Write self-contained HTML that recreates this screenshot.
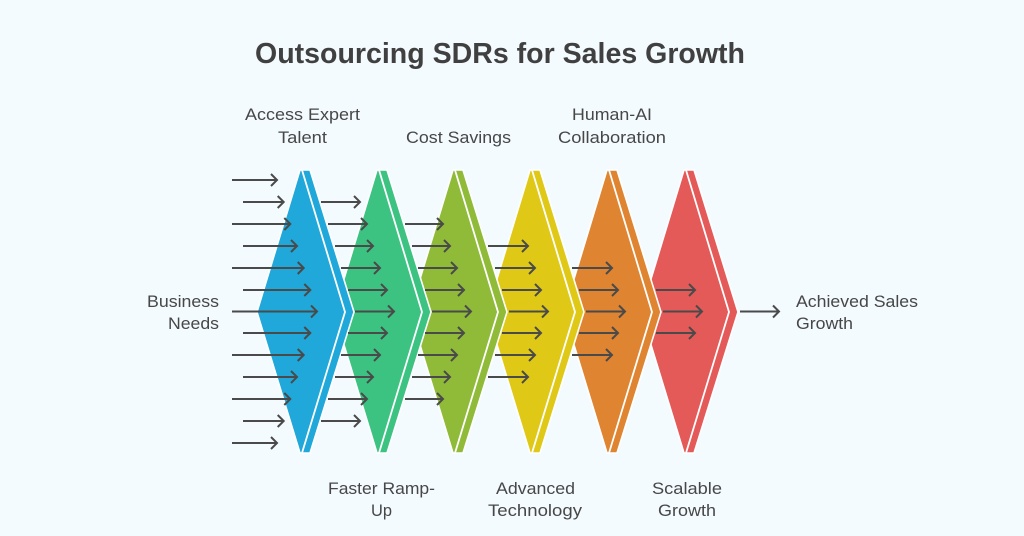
<!DOCTYPE html>
<html>
<head>
<meta charset="utf-8">
<style>
  html, body { margin: 0; padding: 0; background: #f4fbfe; }
  svg { display: block; }
  text { font-family: "Liberation Sans", Arial, sans-serif; fill: #474747; }
</style>
</head>
<body>
<svg width="1024" height="536" viewBox="0 0 1024 536" xmlns="http://www.w3.org/2000/svg">
  <rect width="1024" height="536" fill="#f4fbfe"/>

  <!-- Title -->
  <text x="500" y="63" text-anchor="middle" font-size="29" font-weight="bold" style="fill:#404040" textLength="490" lengthAdjust="spacingAndGlyphs">Outsourcing SDRs for Sales Growth</text>

  <!-- Chevrons (drawn right to left so left ones overlap) -->
  <g stroke="#ffffff" stroke-linejoin="miter">
    <g transform="translate(384,0)">
      <polygon points="300,170 310,170 354,312 310,453 300,453 257,312" fill="#e45a58" stroke-width="1.6"/>
      <polyline points="302,170 345,312 302,453" fill="none" stroke-width="1.8"/>
    </g>
    <g transform="translate(307,0)">
      <polygon points="300,170 310,170 354,312 310,453 300,453 257,312" fill="#df8431" stroke-width="1.6"/>
      <polyline points="302,170 345,312 302,453" fill="none" stroke-width="1.8"/>
    </g>
    <g transform="translate(230,0)">
      <polygon points="300,170 310,170 354,312 310,453 300,453 257,312" fill="#dfc916" stroke-width="1.6"/>
      <polyline points="302,170 345,312 302,453" fill="none" stroke-width="1.8"/>
    </g>
    <g transform="translate(153,0)">
      <polygon points="300,170 310,170 354,312 310,453 300,453 257,312" fill="#8fbb39" stroke-width="1.6"/>
      <polyline points="302,170 345,312 302,453" fill="none" stroke-width="1.8"/>
    </g>
    <g transform="translate(77,0)">
      <polygon points="300,170 310,170 354,312 310,453 300,453 257,312" fill="#3cc381" stroke-width="1.6"/>
      <polyline points="302,170 345,312 302,453" fill="none" stroke-width="1.8"/>
    </g>
    <g>
      <polygon points="300,170 310,170 354,312 310,453 300,453 257,312" fill="#1fa8d9" stroke-width="1.6"/>
      <polyline points="302,170 345,312 302,453" fill="none" stroke-width="1.8"/>
    </g>
  </g>

  <!-- Arrows -->
  <g fill="none" stroke="#4a4a4a" stroke-width="2" stroke-linecap="butt" stroke-linejoin="miter">
    <!-- Set 1 -->
    <path d="M232 180H277M271 174L277 180L271 186"/>
    <path d="M243 202H283.7M277.7 196L283.7 202L277.7 208"/>
    <path d="M232 224H290.3M284.3 218L290.3 224L284.3 230"/>
    <path d="M243 246H297M291 240L297 246L291 252"/>
    <path d="M232 268H303.7M297.7 262L303.7 268L297.7 274"/>
    <path d="M243 290H310.3M304.3 284L310.3 290L304.3 296"/>
    <path d="M232 311.5H317M311 305.5L317 311.5L311 317.5"/>
    <path d="M243 333H310.3M304.3 327L310.3 333L304.3 339"/>
    <path d="M232 355H303.7M297.7 349L303.7 355L297.7 361"/>
    <path d="M243 377H297M291 371L297 377L291 383"/>
    <path d="M232 399H290.3M284.3 393L290.3 399L284.3 405"/>
    <path d="M243 421H283.7M277.7 415L283.7 421L277.7 427"/>
    <path d="M232 443H277M271 437L277 443L271 449"/>

    <!-- Set 2 -->
    <path d="M321 202H360M354 196L360 202L354 208"/>
    <path d="M328 224H367M361 218L367 224L361 230"/>
    <path d="M335 246H373M367 240L373 246L367 252"/>
    <path d="M341 268H380M374 262L380 268L374 274"/>
    <path d="M348 290H387M381 284L387 290L381 296"/>
    <path d="M355 311.5H394M388 305.5L394 311.5L388 317.5"/>
    <path d="M348 333H387M381 327L387 333L381 339"/>
    <path d="M341 355H380M374 349L380 355L374 361"/>
    <path d="M335 377H373M367 371L373 377L367 383"/>
    <path d="M328 399H367M361 393L367 399L361 405"/>
    <path d="M321 421H360M354 415L360 421L354 427"/>

    <!-- Set 3 -->
    <path d="M405 224H443M437 218L443 224L437 230"/>
    <path d="M412 246H450M444 240L450 246L444 252"/>
    <path d="M418 268H457M451 262L457 268L451 274"/>
    <path d="M425 290H464M458 284L464 290L458 296"/>
    <path d="M432 311.5H471M465 305.5L471 311.5L465 317.5"/>
    <path d="M425 333H464M458 327L464 333L458 339"/>
    <path d="M418 355H457M451 349L457 355L451 361"/>
    <path d="M412 377H450M444 371L450 377L444 383"/>
    <path d="M405 399H443M437 393L443 399L437 405"/>

    <!-- Set 4 -->
    <path d="M488 246H528M522 240L528 246L522 252"/>
    <path d="M495 268H535M529 262L535 268L529 274"/>
    <path d="M502 290H541M535 284L541 290L535 296"/>
    <path d="M509 311.5H548M542 305.5L548 311.5L542 317.5"/>
    <path d="M502 333H541M535 327L541 333L535 339"/>
    <path d="M495 355H535M529 349L535 355L529 361"/>
    <path d="M488 377H528M522 371L528 377L522 383"/>

    <!-- Set 5 -->
    <path d="M572 268H612M606 262L612 268L606 274"/>
    <path d="M579 290H618M612 284L618 290L612 296"/>
    <path d="M586 311.5H625M619 305.5L625 311.5L619 317.5"/>
    <path d="M579 333H618M612 327L618 333L612 339"/>
    <path d="M572 355H612M606 349L612 355L606 361"/>

    <!-- Set 6 -->
    <path d="M656 290H695M689 284L695 290L689 296"/>
    <path d="M663 311.5H702M696 305.5L702 311.5L696 317.5"/>
    <path d="M656 333H695M689 327L695 333L689 339"/>

    <!-- Final -->
    <path d="M740 311.5H779M773 305.5L779 311.5L773 317.5"/>
  </g>

  <!-- Labels -->
  <g font-size="16.5">
    <text x="302.5" y="120" text-anchor="middle" textLength="115" lengthAdjust="spacingAndGlyphs">Access Expert</text>
    <text x="302.5" y="143" text-anchor="middle" textLength="49" lengthAdjust="spacingAndGlyphs">Talent</text>

    <text x="458.5" y="143" text-anchor="middle" textLength="105" lengthAdjust="spacingAndGlyphs">Cost Savings</text>

    <text x="612" y="120" text-anchor="middle" textLength="80" lengthAdjust="spacingAndGlyphs">Human-AI</text>
    <text x="612" y="143" text-anchor="middle" textLength="108" lengthAdjust="spacingAndGlyphs">Collaboration</text>

    <text x="219" y="307" text-anchor="end" textLength="72" lengthAdjust="spacingAndGlyphs">Business</text>
    <text x="219" y="329" text-anchor="end" textLength="51" lengthAdjust="spacingAndGlyphs">Needs</text>

    <text x="796" y="307" textLength="122" lengthAdjust="spacingAndGlyphs">Achieved Sales</text>
    <text x="796" y="329" textLength="57" lengthAdjust="spacingAndGlyphs">Growth</text>

    <text x="381.5" y="494" text-anchor="middle" textLength="107" lengthAdjust="spacingAndGlyphs">Faster Ramp-</text>
    <text x="381.5" y="516" text-anchor="middle" textLength="21" lengthAdjust="spacingAndGlyphs">Up</text>

    <text x="535.5" y="494" text-anchor="middle" textLength="79" lengthAdjust="spacingAndGlyphs">Advanced</text>
    <text x="535" y="516" text-anchor="middle" textLength="94" lengthAdjust="spacingAndGlyphs">Technology</text>

    <text x="687" y="494" text-anchor="middle" textLength="70" lengthAdjust="spacingAndGlyphs">Scalable</text>
    <text x="687" y="516" text-anchor="middle" textLength="58" lengthAdjust="spacingAndGlyphs">Growth</text>
  </g>
</svg>
</body>
</html>
